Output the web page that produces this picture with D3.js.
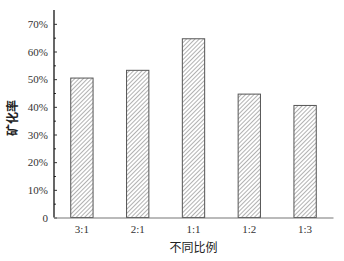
<!DOCTYPE html>
<html>
<head>
<meta charset="utf-8">
<script src="https://cdn.jsdelivr.net/npm/d3@7/dist/d3.min.js"></script>
<style>
  body { margin: 0; background: #fff; }
  text { font-family: "Liberation Serif", "DejaVu Serif", serif; }
</style>
</head>
<body>
<svg id="chart"></svg>
<script>
// data
var ratios = ["3:1", "2:1", "1:1", "1:2", "1:3"];
var rates = [50.4, 53.2, 64.6, 44.6, 40.5];
var yTicks = [0, 10, 20, 30, 40, 50, 60, 70];

var width = 344, height = 261;
var plotLeft = 54, plotRight = 333, plotTop = 10, plotBottom = 217.5;

var svg = d3.select("#chart")
    .attr("width", width)
    .attr("height", height);

var defs = svg.append("defs");
var pat = defs.append("pattern")
    .attr("id", "hatch")
    .attr("patternUnits", "userSpaceOnUse")
    .attr("width", 3)
    .attr("height", 3)
    .attr("patternTransform", "rotate(45)");
pat.append("rect").attr("width", 3).attr("height", 3).attr("fill", "#fff");
pat.append("line")
    .attr("x1", 0).attr("y1", 0).attr("x2", 0).attr("y2", 3)
    .attr("stroke", "#555")
    .attr("stroke-width", 0.9);

var x = d3.scaleBand()
    .domain(ratios)
    .range([plotLeft, plotRight])
    .paddingInner(0.6)
    .paddingOuter(0.3);

var y = d3.scaleLinear()
    .domain([0, 75])
    .range([plotBottom, plotTop]);

// bars
svg.append("g")
    .selectAll("rect")
    .data(ratios)
    .enter()
    .append("rect")
    .attr("x", function(d) { return x(d); })
    .attr("y", function(d, i) { return y(rates[i]); })
    .attr("width", x.bandwidth())
    .attr("height", function(d, i) { return y(0) - y(rates[i]); })
    .attr("fill", "url(#hatch)")
    .attr("stroke", "#555")
    .attr("stroke-width", 1);

// y axis, ticks pointing inward
var minor = d3.range(5, 75, 10);
svg.append("g")
    .attr("transform", "translate(" + plotLeft + ",0)")
    .call(d3.axisRight(y).tickValues(minor).tickSize(2).tickFormat(""))
    .call(function(g) { g.select(".domain").remove(); })
    .selectAll("line").attr("stroke", "#333");

var yAxis = svg.append("g")
    .attr("transform", "translate(" + plotLeft + ",0)")
    .call(d3.axisRight(y).tickValues(yTicks).tickSize(3)
        .tickFormat(function(d) { return d === 0 ? "0" : d + "%"; }));
yAxis.attr("font-family", null);
yAxis.select(".domain").attr("d", "M0," + plotTop + "V" + plotBottom).attr("stroke", "#000").attr("stroke-width", 1.2);
yAxis.selectAll(".tick line").attr("stroke", "#333");
yAxis.selectAll(".tick text")
    .attr("x", -6)
    .attr("text-anchor", "end")
    .attr("font-size", 11)
    .attr("fill", "#333")
    .style("font-family", "'Liberation Serif', serif");

// x axis
var xAxis = svg.append("g")
    .attr("transform", "translate(0," + plotBottom + ")")
    .call(d3.axisBottom(x).tickSize(0).tickPadding(8));
xAxis.attr("font-family", null);
xAxis.select(".domain").attr("stroke", "#777").attr("stroke-width", 1.2);
xAxis.selectAll("text")
    .attr("font-size", 11)
    .attr("fill", "#333")
    .style("font-family", "'Liberation Serif', serif");

// titles
svg.append("text")
    .text("不同比例")
    .attr("x", (plotLeft + plotRight) / 2)
    .attr("y", 252)
    .attr("text-anchor", "middle")
    .attr("font-size", 12)
    .attr("fill", "#222")
    .style("font-family", "Noto Sans CJK SC");

svg.append("text")
    .text("矿化率")
    .attr("transform", "translate(17,118)rotate(-90)")
    .attr("text-anchor", "middle")
    .attr("font-size", 12)
    .attr("font-weight", "bold")
    .attr("fill", "#222")
    .style("font-family", "Noto Sans CJK SC");
</script>
</body>
</html>
